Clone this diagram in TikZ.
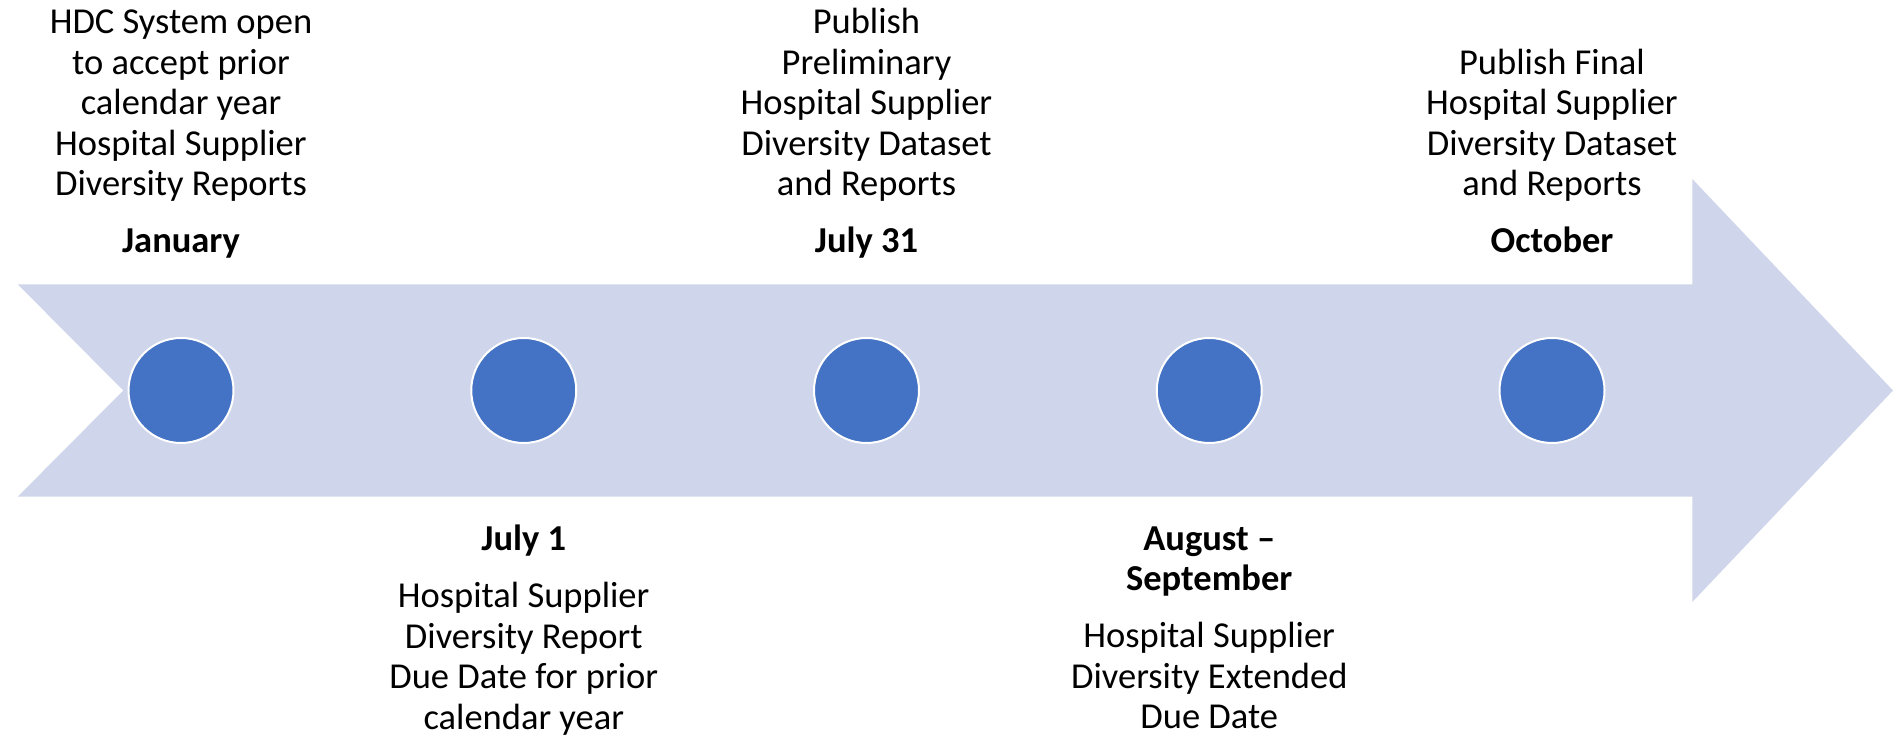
\documentclass[tikz,border=0pt]{standalone}
\usepackage{fontspec}
\setmainfont{Carlito}
\usepackage{xcolor}
\definecolor{tlband}{HTML}{CFD5EA}
\definecolor{tldot}{HTML}{4472C4}
\def\bandcolor{tlband}
\def\dotcolor{tldot}
\usetikzlibrary{calc,positioning}

\begin{document}
\begin{tikzpicture}[x=1pt,y=1pt,font=\fontsize{36.5}{40.5}\selectfont,
	ngay/.style={inner sep=0pt,font=\fontsize{36.5}{40.5}\selectfont\bfseries,align=center},
	ngaytren/.style={ngay,anchor=base,text height=23pt,text depth=7pt},
	ngayduoi/.style={ngay,anchor=north},
	mota/.style={inner sep=0pt,align=center},
	cham/.style={circle,fill=\dotcolor,draw=white,line width=2pt,minimum size=105pt,inner sep=0pt}]
	\useasboundingbox (0,0) rectangle (1893,735);
	%%%Vẽ mũi tên
	\path[fill=\bandcolor] (17.7,450.7) coordinate (A1)
	--(1692.3,450.7) coordinate (A2)
	--(1692.3,556) coordinate (A3)
	--(1893,344.5) coordinate (A4)
	--(1692.3,133) coordinate (A5)
	--(1692.3,238.3) coordinate (A6)
	--(17.7,238.3) coordinate (A7)
	--(123.3,344.5) coordinate (A8)
	--cycle;
	%%%Vẽ các chấm
	\foreach [count=\i from 1] \x in {181,523.75,866.5,1209.25,1552}{%
		\node[cham] (m-\i) at (\x,344.5) {};
	}
	%%%Nhãn phía trên
	\node[ngaytren] (d-1) at ($(m-1)+(0,137.5)$) {January};
	\node[mota,above=27.8pt of d-1] (t-1) {HDC System open\\to accept prior\\calendar year\\Hospital Supplier\\Diversity Reports};
	\node[ngaytren] (d-3) at ($(m-3)+(0,137.5)$) {July 31};
	\node[mota,above=27.8pt of d-3] (t-3) {Publish\\Preliminary\\Hospital Supplier\\Diversity Dataset\\and Reports};
	\node[ngaytren] (d-5) at ($(m-5)+(0,137.5)$) {October};
	\node[mota,above=27.8pt of d-5] (t-5) {Publish Final\\Hospital Supplier\\Diversity Dataset\\and Reports};
	%%%Nhãn phía dưới
	\node[ngayduoi] (d-2) at ($(m-2)+(0,-134.5)$) {July 1};
	\node[mota,below=25.5pt of d-2] (t-2) {Hospital Supplier\\Diversity Report\\Due Date for prior\\calendar year};
	\node[ngayduoi] (d-4) at ($(m-4)+(0,-136)$) {August --\\September};
	\node[mota,below=25.5pt of d-4] (t-4) {Hospital Supplier\\Diversity Extended\\Due Date};
\end{tikzpicture}
\end{document}
